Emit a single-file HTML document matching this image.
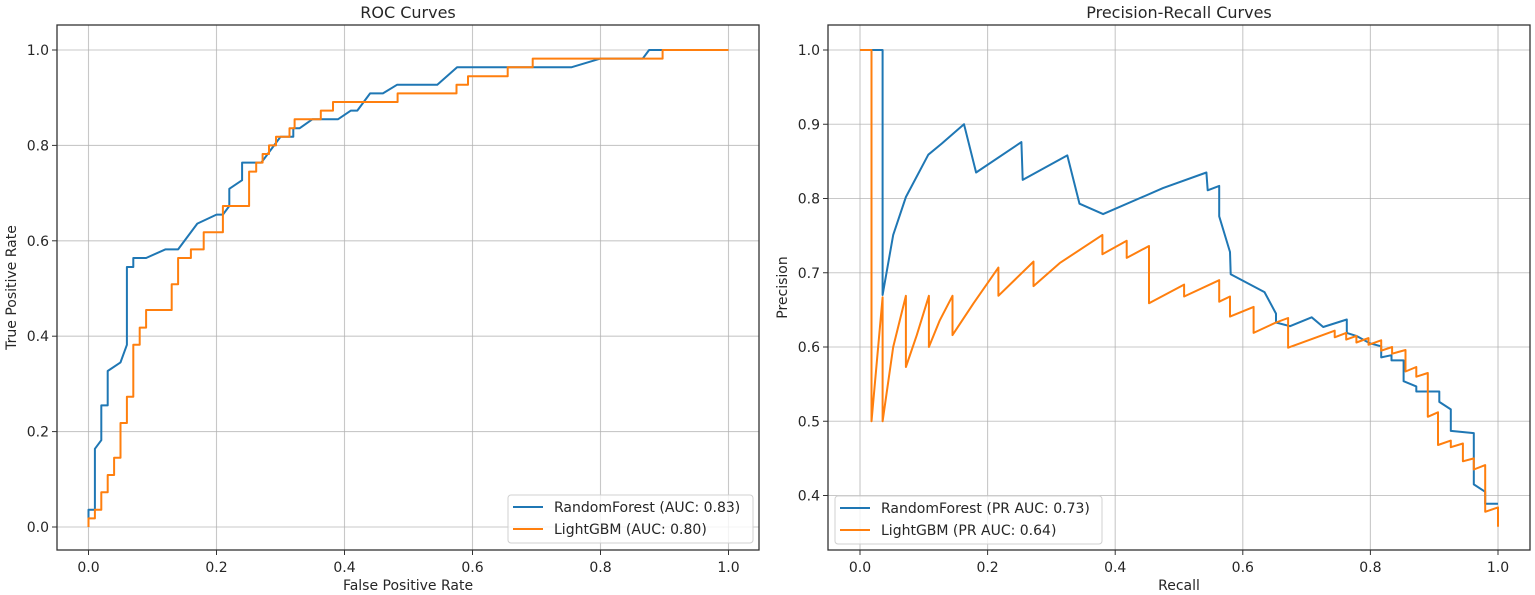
<!DOCTYPE html>
<html><head><meta charset="utf-8"><style>
html,body{margin:0;padding:0;background:#fff;}
svg{display:block;font-family:"DejaVu Sans","Liberation Sans",sans-serif;}
</style></head><body>
<svg id="c" width="1535" height="595" viewBox="0 0 1535 595"></svg>
<script>
// ROC data
const rocTicks = [0, 0.2, 0.4, 0.6, 0.8, 1.0];
const rocTickLabels = ["0.0","0.2","0.4","0.6","0.8","1.0"];
const rfRocFpr = [0,0,0.01,0.01,0.02,0.02,0.03,0.03,0.05,0.06,0.06,0.07,0.07,0.09,0.12,0.14,0.17,0.2,0.21,0.22,0.22,0.24,0.24,0.27,0.28,0.29,0.3,0.32,0.32,0.33,0.35,0.39,0.41,0.42,0.44,0.46,0.482,0.545,0.576,0.755,0.8,0.866,0.876,1.0];
const rfRocTpr = [0,0.036,0.036,0.164,0.182,0.255,0.255,0.327,0.345,0.382,0.545,0.545,0.564,0.564,0.582,0.582,0.636,0.655,0.655,0.673,0.709,0.727,0.764,0.764,0.782,0.8,0.818,0.818,0.836,0.836,0.855,0.855,0.873,0.873,0.909,0.909,0.927,0.927,0.964,0.964,0.982,0.982,1.0,1.0];
const lgbRocFpr = [0,0,0.01,0.01,0.02,0.02,0.03,0.03,0.04,0.04,0.05,0.05,0.06,0.06,0.07,0.07,0.08,0.08,0.09,0.09,0.13,0.13,0.14,0.14,0.16,0.16,0.18,0.18,0.21,0.21,0.251,0.251,0.262,0.262,0.272,0.272,0.282,0.282,0.293,0.293,0.314,0.314,0.322,0.322,0.363,0.363,0.382,0.382,0.483,0.483,0.575,0.575,0.593,0.593,0.655,0.655,0.694,0.694,0.897,0.897,1.0];
const lgbRocTpr = [0,0.018,0.018,0.036,0.036,0.073,0.073,0.109,0.109,0.145,0.145,0.218,0.218,0.273,0.273,0.382,0.382,0.418,0.418,0.455,0.455,0.509,0.509,0.564,0.564,0.582,0.582,0.618,0.618,0.673,0.673,0.745,0.745,0.764,0.764,0.782,0.782,0.8,0.8,0.818,0.818,0.836,0.836,0.855,0.855,0.873,0.873,0.891,0.891,0.909,0.909,0.927,0.927,0.945,0.945,0.964,0.964,0.982,0.982,1.0,1.0];
// PR data
const prXTicks = [0, 0.2, 0.4, 0.6, 0.8, 1.0];
const prXTickLabels = ["0.0","0.2","0.4","0.6","0.8","1.0"];
const prYTicks = [0.4, 0.5, 0.6, 0.7, 0.8, 0.9, 1.0];
const prYTickLabels = ["0.4","0.5","0.6","0.7","0.8","0.9","1.0"];
const rfRecall = [0,0.0355,0.0355,0.052,0.072,0.107,0.128,0.163,0.182,0.253,0.255,0.325,0.344,0.381,0.475,0.543,0.545,0.563,0.563,0.58,0.581,0.634,0.652,0.652,0.674,0.708,0.726,0.763,0.763,0.778,0.799,0.817,0.817,0.833,0.833,0.852,0.852,0.872,0.872,0.908,0.908,0.926,0.926,0.962,0.962,0.98,0.98,1.0];
const rfPrecision = [1.0,1.0,0.67,0.751,0.802,0.859,0.874,0.9,0.835,0.876,0.825,0.858,0.793,0.779,0.814,0.835,0.811,0.817,0.776,0.728,0.698,0.674,0.645,0.633,0.628,0.64,0.627,0.637,0.619,0.615,0.605,0.601,0.586,0.589,0.582,0.582,0.554,0.547,0.54,0.54,0.526,0.516,0.487,0.484,0.415,0.405,0.389,0.389];
const lgbRecall = [0,0.018,0.018,0.0355,0.0355,0.052,0.072,0.072,0.089,0.108,0.108,0.125,0.145,0.145,0.178,0.217,0.217,0.272,0.272,0.313,0.38,0.38,0.418,0.418,0.453,0.453,0.508,0.508,0.563,0.563,0.58,0.58,0.617,0.617,0.652,0.671,0.671,0.744,0.744,0.762,0.762,0.778,0.778,0.797,0.797,0.817,0.817,0.834,0.834,0.855,0.855,0.872,0.872,0.89,0.89,0.906,0.906,0.926,0.926,0.945,0.945,0.962,0.962,0.98,0.98,1.0,1.0];
const lgbPrecision = [1.0,1.0,0.5,0.667,0.5,0.6,0.669,0.573,0.616,0.669,0.6,0.636,0.669,0.616,0.659,0.707,0.669,0.715,0.682,0.713,0.751,0.725,0.743,0.72,0.736,0.659,0.684,0.668,0.69,0.661,0.668,0.641,0.654,0.619,0.633,0.639,0.599,0.622,0.613,0.619,0.61,0.615,0.606,0.612,0.603,0.609,0.595,0.6,0.591,0.596,0.567,0.573,0.56,0.565,0.506,0.512,0.468,0.474,0.465,0.47,0.446,0.45,0.435,0.441,0.378,0.384,0.358];

const NS = "http://www.w3.org/2000/svg";
const svg = document.getElementById('c');
function mk(tag, attrs, parent){const e=document.createElementNS(NS,tag);for(const k in attrs)e.setAttribute(k,attrs[k]);(parent||svg).appendChild(e);return e;}
function txt(s, attrs){const e=mk('text',attrs);e.textContent=s;return e;}

function axes(cfg){
  const g = mk('g',{});
  
  
  const sx = v => cfg.x0px + (v - 0) * (cfg.x1px - cfg.x0px);
  const sy = v => cfg.yAt(v);
  cfg.xt.forEach((v,i)=>{
    const l = mk('line',{x1:sx(v),x2:sx(v),y1:cfg.top,y2:cfg.bottom,stroke:'#b0b0b0','stroke-width':1.1,'stroke-opacity':0.7},g);
    
    
    mk('line',{x1:sx(v),x2:sx(v),y1:cfg.bottom,y2:cfg.bottom+5,stroke:'#333','stroke-width':1},g);
    const t = txt(cfg.xl[i],{x:sx(v),y:cfg.bottom+22,'text-anchor':'middle','font-size':14,fill:'#262626'});
    
    
  });
  cfg.yt.forEach((v,i)=>{
    const l = mk('line',{x1:cfg.left,x2:cfg.right,y1:sy(v),y2:sy(v),stroke:'#b0b0b0','stroke-width':1.1,'stroke-opacity':0.7},g);
    
    
    mk('line',{x1:cfg.left-5,x2:cfg.left,y1:sy(v),y2:sy(v),stroke:'#333','stroke-width':1},g);
    const t = txt(cfg.yl[i],{x:cfg.left-8,y:sy(v)+5,'text-anchor':'end','font-size':14,fill:'#262626'});
    
    
  });
  cfg.series.forEach(s=>{
    let d='';
    s.x.forEach((v,i)=>{d+=(i?'L':'M')+sx(v).toFixed(1)+','+sy(s.y[i]).toFixed(1);});
    const p = mk('path',{d:d,fill:'none',stroke:s.color,'stroke-width':2,'stroke-linejoin':'round'},g);
    
    
  });
  const r = mk('rect',{x:cfg.left,y:cfg.top,width:cfg.right-cfg.left,height:cfg.bottom-cfg.top,fill:'none',stroke:'#333','stroke-width':1.3},g);
  
  
  const ti = txt(cfg.title,{x:(cfg.left+cfg.right)/2,y:18,'text-anchor':'middle','font-size':16,fill:'#262626'});
  
  
  const xa = txt(cfg.xlabel,{x:(cfg.left+cfg.right)/2,y:590,'text-anchor':'middle','font-size':14,fill:'#262626'});
  
  
  const cy=(cfg.top+cfg.bottom)/2;
  const ya = txt(cfg.ylabel,{x:cfg.ylabelX,y:cy,'text-anchor':'middle','font-size':14,fill:'#262626',transform:`rotate(-90 ${cfg.ylabelX} ${cy})`});
  
  
  const L = cfg.legend;
  const lg = mk('g',{},g);
  
  
  mk('rect',{x:L.x,y:L.y,width:L.w,height:48,rx:3,fill:'#fff','fill-opacity':0.8,stroke:'#d0d0d0'},lg);
  cfg.series.forEach((s,i)=>{
    const yy=L.y+12+i*22;
    mk('line',{x1:L.x+5,x2:L.x+35,y1:yy,y2:yy,stroke:s.color,'stroke-width':2},lg);
    const t=txt(s.label,{x:L.x+46,y:yy+5,'font-size':14,fill:'#262626'});
    lg.appendChild(t);
    
    
  });
}

axes({name:'roc-chart',left:57,right:759,top:25,bottom:550,x0px:88.5,x1px:728.5,
  yAt:v=>527-477*v, xt:rocTicks, xl:rocTickLabels, yt:rocTicks, yl:rocTickLabels,
  title:'ROC Curves', xlabel:'False Positive Rate', ylabel:'True Positive Rate', ylabelX:16,
  legend:{x:508,y:495,w:245},
  series:[{name:'roc-randomforest-line',x:rfRocFpr,y:rfRocTpr,color:'#1f77b4',label:'RandomForest (AUC: 0.83)'},
          {name:'roc-lightgbm-line',x:lgbRocFpr,y:lgbRocTpr,color:'#ff7f0e',label:'LightGBM (AUC: 0.80)'}]});

axes({name:'pr-chart',left:828,right:1530,top:25,bottom:550,x0px:860,x1px:1498,
  yAt:v=>50+(1-v)*742.5, xt:prXTicks, xl:prXTickLabels, yt:prYTicks, yl:prYTickLabels,
  title:'Precision-Recall Curves', xlabel:'Recall', ylabel:'Precision', ylabelX:787,
  legend:{x:835,y:496,w:267},
  series:[{name:'pr-randomforest-line',x:rfRecall,y:rfPrecision,color:'#1f77b4',label:'RandomForest (PR AUC: 0.73)'},
          {name:'pr-lightgbm-line',x:lgbRecall,y:lgbPrecision,color:'#ff7f0e',label:'LightGBM (PR AUC: 0.64)'}]});
</script>
</body></html>
